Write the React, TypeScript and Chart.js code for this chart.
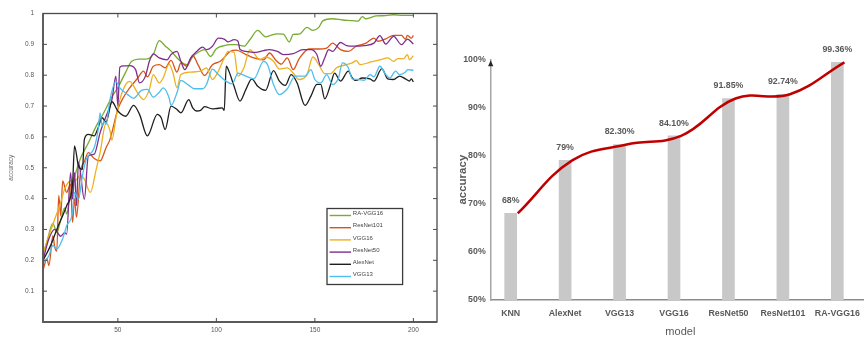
import React, { useEffect, useRef } from 'react';
import { Chart, registerables } from 'chart.js';

Chart.register(...registerables);

// ---------- Left chart: training accuracy curves ----------
const EPOCH_TICKS = [50, 100, 150, 200];
const ACC_TICKS = [0.1, 0.2, 0.3, 0.4, 0.5, 0.6, 0.7, 0.8, 0.9, 1];

const SERIES_NAMES = ['RA-VGG16', 'ResNet101', 'VGG16', 'ResNet50', 'AlexNet', 'VGG13'];
const SERIES_COLORS = ['#77ac30', '#d95319', '#edb120', '#7e2f8e', '#1e1e1e', '#4dbeee'];

const RA_VGG16: [number, number][] = [
  [12, 0.22], [14, 0.26], [17, 0.32], [19, 0.29], [21, 0.33], [23, 0.37], [24, 0.35], [26, 0.42],
  [28, 0.47], [31, 0.53], [35, 0.58], [39, 0.635], [43, 0.68], [47, 0.73], [50, 0.76], [54, 0.81],
  [57, 0.845], [61, 0.852], [65, 0.853], [68, 0.868], [71, 0.912], [74, 0.895], [77, 0.878], [81, 0.85],
  [85, 0.834], [88, 0.86], [91, 0.875], [94, 0.883], [97, 0.861], [100, 0.886], [104, 0.896], [107, 0.899],
  [110, 0.899], [114, 0.894], [117, 0.915], [121, 0.945], [125, 0.924], [128, 0.93], [131, 0.934], [134, 0.933],
  [137, 0.908], [139, 0.932], [142, 0.933], [146, 0.955], [149, 0.945], [152, 0.955], [154, 0.976], [159, 0.983],
  [164, 0.979], [169, 0.977], [172, 0.975], [174, 0.99], [176, 0.983], [181, 0.992], [186, 0.993], [190, 0.996],
  [195, 0.994], [200, 0.994],
];

const RESNET101: [number, number][] = [
  [12, 0.167], [14, 0.205], [15, 0.183], [17, 0.28], [18, 0.242], [19, 0.23], [20, 0.41], [21, 0.344],
  [22, 0.457], [24, 0.42], [26, 0.447], [27, 0.323], [28, 0.4], [29, 0.34], [31, 0.485], [33, 0.52],
  [35, 0.549], [38, 0.53], [41, 0.522], [44, 0.565], [46, 0.592], [50, 0.69], [53, 0.73], [56, 0.759],
  [60, 0.79], [63, 0.813], [65, 0.795], [68, 0.829], [71, 0.834], [74, 0.824], [77, 0.848], [80, 0.81],
  [82, 0.84], [85, 0.829], [88, 0.863], [91, 0.83], [94, 0.799], [98, 0.834], [102, 0.845], [107, 0.877],
  [110, 0.881], [115, 0.867], [119, 0.856], [124, 0.85], [127, 0.872], [130, 0.85], [133, 0.836], [136, 0.856],
  [139, 0.818], [142, 0.853], [147, 0.885], [152, 0.885], [156, 0.888], [159, 0.904], [163, 0.883], [167, 0.877],
  [171, 0.894], [176, 0.904], [180, 0.92], [182, 0.91], [186, 0.918], [190, 0.929], [194, 0.929], [196, 0.917],
  [197, 0.929], [199, 0.92], [200, 0.929],
];

const VGG16: [number, number][] = [
  [12, 0.22], [15, 0.28], [18, 0.334], [21, 0.388], [23, 0.431], [26, 0.457], [28, 0.457], [31, 0.474],
  [33, 0.463], [36, 0.42], [39, 0.495], [41, 0.55], [44, 0.645], [46, 0.62], [47, 0.59], [49, 0.66],
  [51, 0.72], [54, 0.77], [56, 0.78], [60, 0.743], [63, 0.721], [66, 0.754], [68, 0.802], [71, 0.775],
  [73, 0.791], [76, 0.836], [78, 0.807], [80, 0.759], [82, 0.802], [87, 0.81], [92, 0.813], [95, 0.824],
  [98, 0.786], [101, 0.813], [104, 0.856], [106, 0.877], [109, 0.874], [111, 0.797], [114, 0.824], [117, 0.883],
  [119, 0.872], [122, 0.85], [125, 0.859], [129, 0.845], [132, 0.82], [136, 0.824], [139, 0.807], [142, 0.786],
  [146, 0.802], [149, 0.859], [152, 0.834], [155, 0.805], [158, 0.805], [161, 0.824], [166, 0.834], [169, 0.84],
  [171, 0.847], [173, 0.834], [178, 0.842], [183, 0.85], [187, 0.856], [190, 0.845], [192, 0.854], [195, 0.853],
  [197, 0.867], [198, 0.85], [200, 0.863],
];

const RESNET50: [number, number][] = [
  [12, 0.2], [15, 0.27], [18, 0.3], [21, 0.278], [23, 0.29], [24, 0.285], [26, 0.484], [27, 0.398],
  [28, 0.484], [29, 0.377], [30, 0.517], [33, 0.398], [35, 0.538], [38, 0.544], [41, 0.614], [44, 0.667],
  [47, 0.721], [49, 0.797], [50, 0.7], [51, 0.826], [53, 0.83], [56, 0.831], [59, 0.818], [61, 0.775],
  [64, 0.797], [66, 0.845], [68, 0.869], [71, 0.856], [75, 0.85], [77, 0.867], [80, 0.877], [82, 0.845],
  [84, 0.818], [87, 0.856], [90, 0.877], [93, 0.891], [95, 0.883], [98, 0.894], [101, 0.92], [104, 0.917],
  [106, 0.908], [109, 0.915], [111, 0.91], [112, 0.883], [115, 0.877], [120, 0.874], [124, 0.88], [127, 0.883],
  [131, 0.877], [134, 0.867], [139, 0.87], [144, 0.883], [148, 0.883], [151, 0.867], [153, 0.829], [155, 0.856],
  [157, 0.883], [159, 0.877], [163, 0.906], [166, 0.896], [170, 0.894], [175, 0.896], [180, 0.904], [183, 0.928],
  [186, 0.901], [190, 0.926], [194, 0.899], [197, 0.917], [200, 0.901],
];

const ALEXNET: [number, number][] = [
  [12, 0.199], [16, 0.25], [19, 0.3], [24, 0.377], [27, 0.447], [28, 0.571], [30, 0.506], [32, 0.495],
  [33, 0.592], [35, 0.608], [38, 0.603], [40, 0.63], [42, 0.662], [44, 0.648], [47, 0.714], [50, 0.684],
  [54, 0.667], [58, 0.702], [61, 0.673], [65, 0.603], [66, 0.612], [70, 0.673], [72, 0.662], [74, 0.624],
  [77, 0.7], [80, 0.689], [82, 0.678], [86, 0.721], [88, 0.694], [90, 0.684], [92, 0.686], [94, 0.698],
  [98, 0.691], [100, 0.692], [103, 0.694], [104, 0.686], [105, 0.829], [107, 0.802], [109, 0.764], [112, 0.716],
  [115, 0.754], [118, 0.788], [121, 0.764], [125, 0.751], [129, 0.815], [132, 0.781], [135, 0.767], [138, 0.802],
  [141, 0.775], [145, 0.702], [148, 0.732], [151, 0.77], [153, 0.77], [155, 0.723], [158, 0.77], [160, 0.807],
  [163, 0.781], [167, 0.813], [169, 0.791], [171, 0.783], [174, 0.791], [178, 0.788], [180, 0.781], [184, 0.821],
  [187, 0.788], [190, 0.786], [193, 0.797], [196, 0.788], [198, 0.781], [199, 0.788], [200, 0.778],
];

const VGG13: [number, number][] = [
  [12, 0.19], [15, 0.215], [17, 0.248], [19, 0.237], [22, 0.27], [24, 0.312], [27, 0.355], [28, 0.42],
  [30, 0.398], [32, 0.474], [34, 0.528], [38, 0.565], [40, 0.624], [41, 0.678], [42, 0.635], [43, 0.651],
  [44, 0.64], [46, 0.721], [49, 0.78], [51, 0.759], [55, 0.737], [58, 0.725], [62, 0.751], [65, 0.754],
  [68, 0.729], [71, 0.745], [73, 0.759], [76, 0.727], [77, 0.702], [80, 0.743], [82, 0.783], [86, 0.767],
  [89, 0.756], [93, 0.756], [95, 0.77], [98, 0.82], [101, 0.802], [105, 0.78], [108, 0.772], [111, 0.807],
  [115, 0.797], [119, 0.788], [124, 0.845], [126, 0.834], [129, 0.77], [132, 0.737], [136, 0.756], [140, 0.797],
  [145, 0.797], [148, 0.818], [150, 0.786], [153, 0.775], [156, 0.802], [159, 0.77], [162, 0.791], [164, 0.84],
  [167, 0.824], [169, 0.788], [172, 0.786], [175, 0.783], [178, 0.802], [180, 0.795], [183, 0.829], [186, 0.802],
  [188, 0.791], [191, 0.813], [193, 0.802], [196, 0.81], [197, 0.818], [200, 0.816],
];

const SERIES = [RA_VGG16, RESNET101, VGG16, RESNET50, ALEXNET, VGG13];

// ---------- Right chart: final accuracy per model ----------
const MODELS = ['KNN', 'AlexNet', 'VGG13', 'VGG16', 'ResNet50', 'ResNet101', 'RA-VGG16'];
const MODEL_ACC = [68, 79, 82.3, 84.1, 91.85, 92.74, 99.36];
const MODEL_ACC_LABELS = ['68%', '79%', '82.30%', '84.10%', '91.85%', '92.74%', '99.36%'];
const PCT_TICKS = [50, 60, 70, 80, 90, 100];
const LINE_SHIFT = 0.13;

const LEFT_FONT = '"Liberation Sans", Arial, sans-serif';
const RIGHT_FONT = '"Liberation Sans", Arial, sans-serif';

const frameTicksPlugin = {
  id: 'frameTicks',
  afterDatasetsDraw(chart: any) {
    const { ctx, chartArea: a, scales } = chart;
    const x = scales.x;
    const y = scales.y;
    ctx.save();
    ctx.strokeStyle = '#4a4a4a';
    ctx.lineWidth = 1.3;
    ctx.strokeRect(a.left, a.top, a.right - a.left, a.bottom - a.top);
    // heavier left and bottom axes
    ctx.strokeStyle = '#5a5a5a';
    ctx.lineWidth = 1.8;
    ctx.beginPath();
    ctx.moveTo(a.left, a.top);
    ctx.lineTo(a.left, a.bottom);
    ctx.lineTo(a.right, a.bottom);
    ctx.stroke();
    ctx.strokeStyle = '#4a4a4a';
    ctx.lineWidth = 1;
    ctx.beginPath();
    for (const t of EPOCH_TICKS) {
      const px = x.getPixelForValue(t);
      ctx.moveTo(px, a.bottom);
      ctx.lineTo(px, a.bottom - 4);
      ctx.moveTo(px, a.top);
      ctx.lineTo(px, a.top + 4);
    }
    for (const t of ACC_TICKS) {
      const py = y.getPixelForValue(t);
      ctx.moveTo(a.left, py);
      ctx.lineTo(a.left + 4, py);
      ctx.moveTo(a.right, py);
      ctx.lineTo(a.right - 4, py);
    }
    ctx.stroke();
    ctx.restore();
  },
};

const boxLegendPlugin = {
  id: 'boxLegend',
  afterDraw(chart: any) {
    const { ctx, chartArea: a } = chart;
    const bx = a.left + 284;
    const by = a.top + 195;
    const bw = 75.6;
    const bh = 76;
    ctx.save();
    ctx.fillStyle = '#ffffff';
    ctx.fillRect(bx, by, bw, bh);
    ctx.strokeStyle = '#3a3a3a';
    ctx.lineWidth = 1.3;
    ctx.strokeRect(bx, by, bw, bh);
    ctx.font = `6px ${LEFT_FONT}`;
    ctx.textBaseline = 'middle';
    ctx.textAlign = 'left';
    SERIES_NAMES.forEach((name, i) => {
      const ty = by + 5 + i * 12.2;
      ctx.strokeStyle = SERIES_COLORS[i];
      ctx.lineWidth = 1.4;
      ctx.beginPath();
      ctx.moveTo(bx + 2.6, ty + 2);
      ctx.lineTo(bx + 24, ty + 2);
      ctx.stroke();
      ctx.fillStyle = '#444';
      ctx.fillText(name, bx + 25.8, ty);
    });
    ctx.restore();
  },
};

const barLabelsPlugin = {
  id: 'barLabels',
  afterDatasetsDraw(chart: any) {
    const { ctx } = chart;
    const meta = chart.getDatasetMeta(1);
    ctx.save();
    ctx.font = `bold 8.8px ${RIGHT_FONT}`;
    ctx.fillStyle = '#595959';
    ctx.textAlign = 'center';
    ctx.textBaseline = 'middle';
    meta.data.forEach((el: any, i: number) => {
      ctx.fillText(MODEL_ACC_LABELS[i], el.x, el.y - 12.5);
    });
    ctx.restore();
  },
};

const axisArrowPlugin = {
  id: 'axisArrow',
  afterDraw(chart: any) {
    const { ctx, chartArea: a } = chart;
    ctx.save();
    ctx.fillStyle = '#262626';
    ctx.beginPath();
    ctx.moveTo(a.left, a.top + 1);
    ctx.lineTo(a.left - 2.6, a.top + 7);
    ctx.lineTo(a.left + 2.6, a.top + 7);
    ctx.closePath();
    ctx.fill();
    ctx.restore();
  },
};

export default function App() {
  const leftRef = useRef<HTMLCanvasElement>(null);
  const rightRef = useRef<HTMLCanvasElement>(null);

  useEffect(() => {
    const left = new Chart(leftRef.current as HTMLCanvasElement, {
      type: 'line',
      data: {
        datasets: SERIES.map((s, i) => ({
          label: SERIES_NAMES[i],
          data: s.map(([x, y]) => ({ x, y })),
          borderColor: SERIES_COLORS[i],
          backgroundColor: SERIES_COLORS[i],
          borderWidth: 1.3,
          pointRadius: 0,
          cubicInterpolationMode: 'monotone',
          fill: false,
          order: SERIES.length - 1 - i,
        })),
      },
      options: {
        animation: false,
        responsive: false,
        events: [],
        layout: { padding: { top: 13.5, right: 3, left: 0, bottom: 0 } },
        plugins: { legend: { display: false }, tooltip: { enabled: false } },
        scales: {
          x: {
            type: 'linear',
            min: 12,
            max: 212,
            afterBuildTicks: (s: any) => {
              s.ticks = EPOCH_TICKS.map((v) => ({ value: v }));
            },
            afterFit: (s: any) => {
              s.height = 15;
            },
            grid: { display: false, drawTicks: false },
            border: { display: false },
            ticks: {
              padding: 4,
              color: '#555',
              autoSkip: false,
              maxRotation: 0,
              font: { family: LEFT_FONT, size: 6.5 },
            },
          },
          y: {
            type: 'linear',
            min: 0,
            max: 1,
            afterBuildTicks: (s: any) => {
              s.ticks = ACC_TICKS.map((v) => ({ value: v }));
            },
            afterFit: (s: any) => {
              s.width = 43;
            },
            grid: { display: false, drawTicks: false },
            border: { display: false },
            ticks: {
              padding: 9,
              color: '#555',
              font: { family: LEFT_FONT, size: 6.5 },
              callback: (v: any) => (v === 1 ? '1' : Number(v).toFixed(1)),
            },
            title: {
              display: true,
              text: 'accuracy',
              color: '#666',
              font: { family: LEFT_FONT, size: 6.5 },
              padding: { top: 7.8, bottom: 0 },
            },
          },
        },
      },
      plugins: [frameTicksPlugin, boxLegendPlugin],
    } as any);

    const right = new Chart(rightRef.current as HTMLCanvasElement, {
      type: 'bar',
      data: {
        datasets: [
          {
            type: 'line',
            data: MODEL_ACC.map((v, i) => ({ x: i + LINE_SHIFT, y: v })),
            borderColor: '#c00000',
            borderWidth: 2.5,
            pointRadius: 0,
            tension: 0.4,
            fill: false,
            order: 0,
          },
          {
            type: 'bar',
            data: MODEL_ACC.map((v, i) => ({ x: i, y: v })),
            backgroundColor: '#c8c8c8',
            barThickness: 12,
            order: 1,
          },
        ],
      },
      options: {
        animation: false,
        responsive: false,
        events: [],
        layout: { padding: { top: 59.3, right: 2, left: 0, bottom: 0 } },
        plugins: { legend: { display: false }, tooltip: { enabled: false } },
        scales: {
          x: {
            type: 'linear',
            offset: false,
            min: -0.367,
            max: 6.6,
            afterBuildTicks: (s: any) => {
              s.ticks = MODELS.map((_, i) => ({ value: i }));
            },
            afterFit: (s: any) => {
              s.height = 37;
            },
            grid: { display: false, drawTicks: false },
            border: { display: true, color: '#8c8c8c', width: 1.5 },
            ticks: {
              padding: 8,
              color: '#595959',
              autoSkip: false,
              maxRotation: 0,
              font: { family: RIGHT_FONT, size: 8.8, weight: 'bold' },
              callback: (v: any) => MODELS[Math.round(Number(v))] ?? '',
            },
            title: {
              display: true,
              text: 'model',
              color: '#595959',
              font: { family: RIGHT_FONT, size: 11, lineHeight: 1 },
              padding: { top: 0, bottom: 0 },
            },
          },
          y: {
            type: 'linear',
            min: 50,
            max: 100,
            afterBuildTicks: (s: any) => {
              s.ticks = PCT_TICKS.map((v) => ({ value: v }));
            },
            afterFit: (s: any) => {
              s.width = 50.7;
            },
            grid: { display: false, drawTicks: false },
            border: { display: true, color: '#a6a6a6', width: 1.5 },
            ticks: {
              padding: 5,
              color: '#595959',
              font: { family: RIGHT_FONT, size: 8.8, weight: 'bold' },
              callback: (v: any) => `${v}%`,
            },
            title: {
              display: true,
              text: 'accuracy',
              color: '#595959',
              font: { family: RIGHT_FONT, size: 11.5, weight: 'bold', lineHeight: 1.2 },
              padding: { top: 15.5, bottom: 0 },
            },
          },
        },
      },
      plugins: [barLabelsPlugin, axisArrowPlugin],
    } as any);

    return () => {
      left.destroy();
      right.destroy();
    };
  }, []);

  return (
    <div
      style={{
        position: 'fixed',
        left: 0,
        top: 0,
        width: 864,
        height: 337,
        overflow: 'hidden',
        background: '#ffffff',
      }}
    >
      <canvas
        ref={leftRef}
        width={440}
        height={337}
        style={{ position: 'absolute', left: 0, top: 0, display: 'block' }}
      />
      <canvas
        ref={rightRef}
        width={432}
        height={337}
        style={{ position: 'absolute', left: 440, top: 0, display: 'block' }}
      />
    </div>
  );
}
